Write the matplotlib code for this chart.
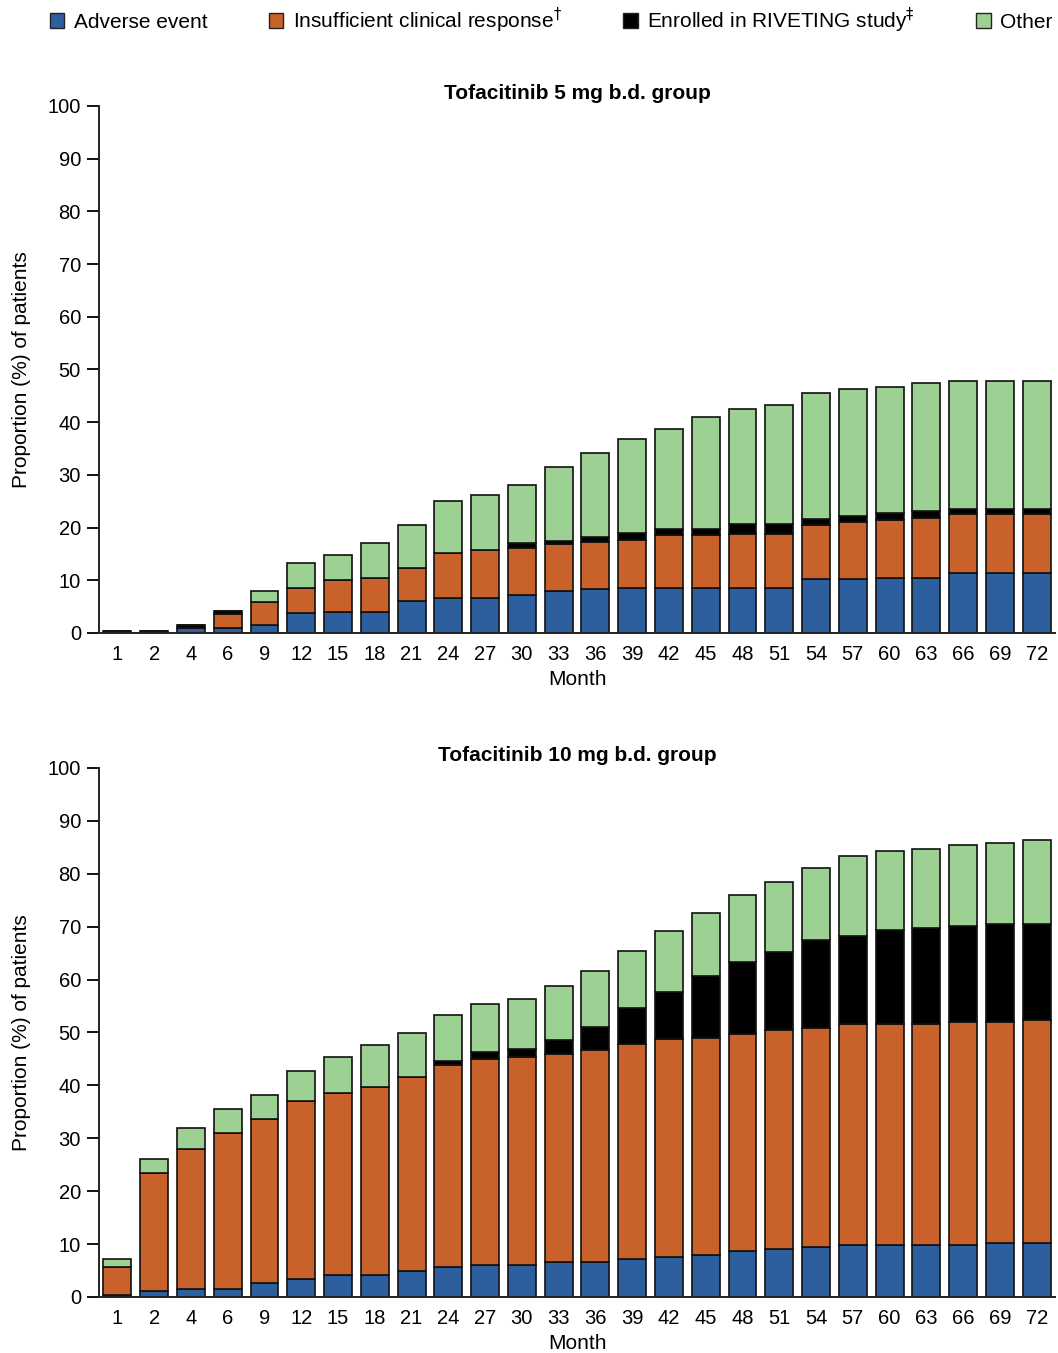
import matplotlib
matplotlib.use("Agg")
import matplotlib.pyplot as plt
from matplotlib.patches import Patch
import numpy as np

plt.rcParams['font.family'] = ['Liberation Sans', 'DejaVu Sans']

# months on the x axis
months = [1, 2, 4, 6, 9, 12, 15, 18, 21, 24, 27, 30, 33, 36, 39, 42, 45, 48, 51,
          54, 57, 60, 63, 66, 69, 72]

# Tofacitinib 5 mg b.d. (% of patients, stacked segments)
adverse_5 = [0, 0, 1.0, 1.0, 1.5, 3.7, 4.0, 4.0, 6.0, 6.7, 6.7, 7.2, 7.9, 8.3, 8.6,
             8.6, 8.6, 8.6, 8.6, 10.2, 10.2, 10.5, 10.5, 11.3, 11.3, 11.3]
insuff_5 = [0, 0, 0, 2.6, 4.4, 4.9, 6.1, 6.5, 6.3, 8.5, 9.1, 9.0, 9.0, 9.0, 9.1,
            9.9, 9.9, 10.2, 10.2, 10.2, 10.9, 11.0, 11.4, 11.3, 11.3, 11.3]
riveting_5 = [0.4, 0.4, 0.5, 0.5, 0, 0, 0, 0, 0, 0, 0, 0.9, 0.5, 0.9, 1.3,
              1.2, 1.2, 1.8, 1.8, 1.3, 1.0, 1.3, 1.3, 1.0, 1.0, 1.0]
other_5 = [0, 0, 0, 0, 2.0, 4.7, 4.6, 6.6, 8.2, 9.8, 10.4, 11.0, 14.1, 15.9, 17.8,
           19.0, 21.3, 21.9, 22.7, 23.8, 24.2, 23.9, 24.2, 24.2, 24.2, 24.2]

# Tofacitinib 10 mg b.d.
adverse_10 = [0.4, 1.1, 1.5, 1.5, 2.6, 3.4, 4.1, 4.1, 4.9, 5.6, 6.1, 6.1, 6.7, 6.7,
              7.1, 7.5, 8.0, 8.6, 9.1, 9.4, 9.9, 9.9, 9.9, 9.9, 10.2, 10.2]
insuff_10 = [5.2, 22.4, 26.4, 29.5, 31.1, 33.7, 34.5, 35.6, 36.7, 38.2, 38.8, 39.2,
             39.3, 40.0, 40.8, 41.2, 41.0, 41.1, 41.4, 41.5, 41.7, 41.7, 41.7, 42.1,
             41.8, 42.2]
riveting_10 = [0, 0, 0, 0, 0, 0, 0, 0, 0, 0.9, 1.4, 1.6, 2.5, 4.4, 6.7, 8.9, 11.6,
               13.6, 14.7, 16.6, 16.7, 17.8, 18.2, 18.2, 18.5, 18.1]
other_10 = [1.6, 2.6, 4.0, 4.6, 4.5, 5.7, 6.8, 8.0, 8.3, 8.6, 9.0, 9.5, 10.2, 10.6,
            10.8, 11.6, 12.0, 12.7, 13.2, 13.5, 15.0, 14.9, 14.9, 15.3, 15.3, 15.8]

labels = ['Adverse event', r'Insufficient clinical response$^{\dagger}$',
          r'Enrolled in RIVETING study$^{\ddagger}$', 'Other']
colors = ['#2D5E9E', '#C8622A', '#000000', '#9DD193']

fig = plt.figure(figsize=(10.58, 13.53), dpi=100)
ax1 = fig.add_axes([0.0936, 0.5322, 0.9036, 0.3895])
ax2 = fig.add_axes([0.0936, 0.0414, 0.9036, 0.3910])

x = np.arange(len(months))


def draw(ax, series, title):
    bottom = np.zeros(len(months))
    for vals, c in zip(series, colors):
        vals = np.array(vals)
        ax.bar(x, vals, width=0.76, bottom=bottom, color=c, edgecolor='#111111',
               linewidth=1.2)
        bottom += vals
    ax.set_xlim(-0.5, 25.5)
    ax.set_ylim(0, 100)
    ax.set_yticks(range(0, 101, 10))
    ax.set_xticks(x)
    ax.set_xticklabels([str(m) for m in months])
    ax.tick_params(axis='x', length=0, labelsize=14.5, pad=9)
    ax.tick_params(axis='y', length=9, width=1.3, labelsize=14.5, pad=4)
    for s in ['top', 'right']:
        ax.spines[s].set_visible(False)
    for s in ['left', 'bottom']:
        ax.spines[s].set_linewidth(1.4)
        ax.spines[s].set_color('#222222')
    ax.set_xlabel('Month', fontsize=15, labelpad=4)
    ax.set_ylabel('Proportion (%) of patients', fontsize=15, labelpad=12)
    ax.set_title(title, fontsize=15, fontweight='bold', pad=5)


draw(ax1, [adverse_5, insuff_5, riveting_5, other_5], 'Tofacitinib 5 mg b.d. group')
draw(ax2, [adverse_10, insuff_10, riveting_10, other_10], 'Tofacitinib 10 mg b.d. group')

handles = [Patch(facecolor=c, edgecolor='#222222', linewidth=1.0) for c in colors]
fig.legend(handles, labels, loc='upper center', bbox_to_anchor=(0.521, 1.002), ncol=4,
           frameon=False, fontsize=15, handlelength=0.7, handleheight=0.7,
           handletextpad=0.45, columnspacing=2.95, borderaxespad=0.0)

fig.savefig('out.png', dpi=100)
